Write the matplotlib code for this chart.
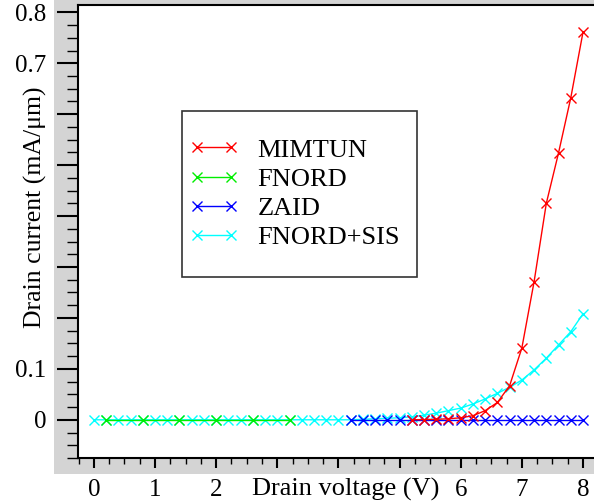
import matplotlib
matplotlib.use("Agg")
import matplotlib.pyplot as plt
from matplotlib.patches import Rectangle
from matplotlib.ticker import MultipleLocator
import numpy as np

plt.rcParams["font.family"] = ["Liberation Serif", "DejaVu Serif"]

# data
mimtun_v = [5.2, 5.4, 5.6, 5.8, 6.0, 6.2, 6.4, 6.6, 6.8, 7.0, 7.2, 7.4, 7.6, 7.8, 8.0]
mimtun_i = [0.0, 0.0005, 0.001, 0.002, 0.004, 0.008, 0.018, 0.034, 0.067, 0.141,
            0.271, 0.425, 0.524, 0.632, 0.761]

fnord_v = [0.2, 0.8, 1.4, 2.0, 2.6, 3.2]
fnord_i = [0.0, 0.0, 0.0, 0.0, 0.0, 0.0]

zaid_v = [4.2, 4.4, 4.6, 4.8, 5.0, 5.2, 5.4, 5.6, 5.8, 6.0, 6.2, 6.4, 6.6, 6.8,
          7.0, 7.2, 7.4, 7.6, 7.8, 8.0]
zaid_i = [0.0] * 20

sis_v = [0.0, 0.2, 0.4, 0.6, 0.8, 1.0, 1.2, 1.4, 1.6, 1.8, 2.0, 2.2, 2.4, 2.6,
         2.8, 3.0, 3.2, 3.4, 3.6, 3.8, 4.0, 4.2, 4.4, 4.6, 4.8, 5.0, 5.2, 5.4,
         5.6, 5.8, 6.0, 6.2, 6.4, 6.6, 6.8, 7.0, 7.2, 7.4, 7.6, 7.8, 8.0]
sis_i = [0.0] * 22 + [0.001, 0.002, 0.003, 0.004, 0.006, 0.009, 0.013, 0.018,
                      0.023, 0.031, 0.041, 0.052, 0.064, 0.078, 0.098, 0.121,
                      0.147, 0.173, 0.208]

x_ticks = [0, 1, 2, 3, 4, 5, 6, 7, 8]
x_labels = ["0", "1", "2", "", "", "", "6", "7", "8"]
y_ticks = [0, 0.1, 0.2, 0.3, 0.4, 0.5, 0.6, 0.7, 0.8]
y_labels = ["0", "0.1", "", "", "", "", "", "0.7", "0.8"]

W, H = 594, 504
fig = plt.figure(figsize=(W / 100, H / 100), dpi=100)
fig.patches.append(Rectangle((54 / W, 1 - 474 / H), 1, 1, transform=fig.transFigure,
                             facecolor="#d4d4d4", edgecolor="none", zorder=-10))

ax = fig.add_axes([78 / W, 1 - 458 / H, (W - 78) / W, (458 - 5) / H])

style = dict(marker="x", markersize=6.5, linewidth=1, markeredgewidth=1)
ax.plot(sis_v, sis_i, color="#00ffff", label="FNORD+SIS", zorder=2, **style)
ax.plot(fnord_v, fnord_i, color="#00ee00", label="FNORD", zorder=3, **style)
ax.plot(zaid_v, zaid_i, color="#0000ff", label="ZAID", zorder=4, **style)
ax.plot(mimtun_v, mimtun_i, color="#ff0000", label="MIMTUN", zorder=5, **style)

ax.set_xlim(-0.26, 8.18)
ax.set_ylim(-0.075, 0.8144)

ax.set_xticks(x_ticks)
ax.set_xticklabels(x_labels, fontsize=18)
ax.set_yticks(y_ticks)
ax.set_yticklabels(y_labels, fontsize=18)
ax.xaxis.set_minor_locator(MultipleLocator(0.25))
ax.yaxis.set_minor_locator(MultipleLocator(0.025))
ax.tick_params(axis="y", which="major", direction="out", length=15, width=1.5, pad=8)
ax.tick_params(axis="y", which="minor", direction="out", length=8, width=1)
ax.tick_params(axis="x", which="major", direction="out", length=7, width=1.5, pad=8)
ax.tick_params(axis="x", which="minor", direction="out", length=4.5, width=1)

for side in ["left", "top", "bottom"]:
    ax.spines[side].set_linewidth(1.5)
ax.spines["right"].set_visible(False)

ax.set_xlabel("Drain voltage (V)", fontsize=19)
ax.xaxis.set_label_coords(0.519, -0.043)
ax.set_ylabel("Drain current (mA/\u03bcm)", fontsize=18.5)
ax.yaxis.set_label_coords(-0.06, 0.554)

# legend frame drawn by hand, entries placed inside it
ax.add_patch(Rectangle((0.2016, 0.3996), 0.657 - 0.2016, 0.766 - 0.3996,
                       transform=ax.transAxes, facecolor="white", edgecolor="#333333",
                       linewidth=1.2, zorder=6))
handles, labels = ax.get_legend_handles_labels()
order = [3, 1, 2, 0]
leg = ax.legend([handles[i] for i in order], [labels[i] for i in order],
                loc="upper left", bbox_to_anchor=(0.215, 0.706), frameon=False,
                fontsize=19, numpoints=2, handlelength=1.9, handletextpad=0.7,
                labelspacing=0.22, borderpad=0, borderaxespad=0)
leg.set_zorder(7)

fig.savefig("out.png", dpi=100)
